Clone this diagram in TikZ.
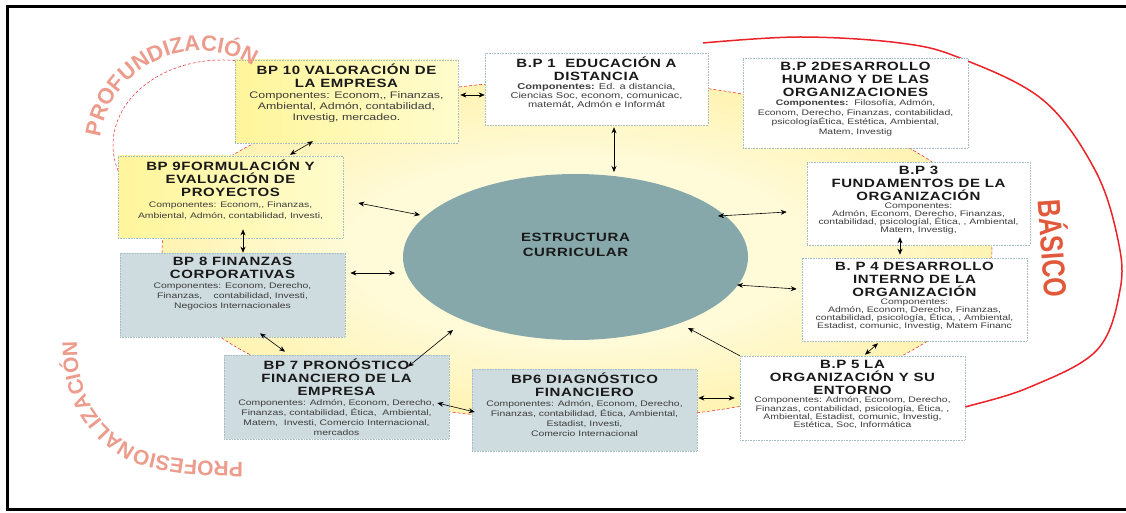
\documentclass[tikz,border=0pt]{standalone}
\usepackage{fontspec}
\setmainfont{Liberation Sans}
\newfontfamily\titlefont{Liberation Sans}[FakeStretch=1.25,LetterSpace=5]
\newfontfamily\compfont{Liberation Sans}[FakeStretch=1.3]
\newfontfamily\artfont{Liberation Sans Bold}
\newfontfamily\basfont{Liberation Sans Bold}[FakeStretch=0.78]
\usetikzlibrary{shapes.geometric,decorations.text,arrows.meta}

\definecolor{boxline}{RGB}{165,190,195}
\definecolor{bpgray}{RGB}{207,220,223}
\definecolor{bpyel}{RGB}{255,245,155}
\definecolor{bpyellt}{RGB}{255,252,205}
\definecolor{cream}{RGB}{255,250,215}
\definecolor{sand}{RGB}{255,238,148}
\definecolor{curteal}{RGB}{134,168,170}
\definecolor{artpink}{RGB}{236,155,140}
\definecolor{basred}{RGB}{226,88,58}
\definecolor{arcred}{RGB}{235,35,40}
\definecolor{ttl}{RGB}{25,25,25}
\definecolor{cmp}{RGB}{60,60,60}

\pgfdeclareradialshading{sunglow}{\pgfpoint{0bp}{0bp}}{color(0bp)=(cream); color(14bp)=(cream); color(34bp)=(sand); color(50bp)=(sand)}

% box text: height, width, title, components
\newcommand{\bptext}[4]{\parbox[c][#1][t]{#2}{\centering\vspace*{4pt}%
{\titlefont\bfseries\fontsize{12}{13}\selectfont\color{ttl}#3\par}%
{\compfont\color{cmp}#4\par}}}

\tikzset{
  bpbox/.style={draw=boxline, densely dotted, line width=0.6pt, inner sep=0pt},
  bpwhite/.style={bpbox, fill=white},
  bpyellow/.style={bpbox, left color=bpyel, right color=bpyellt},
  bpblue/.style={bpbox, fill=bpgray},
  link/.style={<->, >={Stealth[length=6pt,width=5pt]}, line width=0.6pt},
  wordart/.style={decorate, decoration={text along path, #1}}
}

\begin{document}
\begin{tikzpicture}[x=1pt,y=1pt]
\useasboundingbox (0,0) rectangle (1126,512);

% background rings
\shade[shading=sunglow] (577,262) ellipse[x radius=415, y radius=170];
\draw[arcred, densely dashed, line width=0.5pt] (577,262) ellipse[x radius=415, y radius=170];
\draw[arcred, densely dashed, line width=0.5pt] (222,367) ++(75:109 and 85) arc[start angle=75, end angle=198, x radius=109, y radius=85];
\draw[arcred, line width=1.5pt] plot[smooth, tension=0.6] coordinates {(703,469) (800,475) (900,469) (960,454) (1043,412) (1095,342) (1118,272) (1120,222) (1097,162) (1030,125) (965,105) (930,97)};

\node[ellipse, fill=curteal, inner sep=0pt, minimum width=345pt, minimum height=166pt] (cur) at (575.5,255) {};
\node[align=center, font=\titlefont\bfseries\fontsize{12}{15}\selectfont, text=ttl] (curtext) at ([yshift=12pt]cur.center) {ESTRUCTURA\\CURRICULAR};

% blocks
\node[bpyellow] (bp10) at (346.5,410.5) {\bptext{83pt}{223pt}{BP 10 VALORACIÓN DE\\LA EMPRESA}{\fontsize{9.5}{11}\selectfont Componentes: Econom,, Finanzas,\\Ambiental, Admón, contabilidad,\\Investig, mercadeo.}};
\node[bpwhite] (bp1) at (596.5,423) {\bptext{72pt}{223pt}{B.P 1\ \ EDUCACIÓN A\\DISTANCIA}{\fontsize{8.5}{9}\selectfont \textbf{Componentes:} Ed. a distancia,\\Ciencias Soc, econom, comunicac,\\matemát, Admón e Informát}};
\node[bpwhite] (bp2) at (855.5,409) {\bptext{90pt}{225pt}{B.P 2DESARROLLO\\HUMANO Y DE LAS\\ORGANIZACIONES}{\fontsize{8}{9.5}\selectfont \textbf{Componentes:}\ \ Filosofía, Admón,\\Econom, Derecho, Finanzas, contabilidad,\\psicologíaÉtica, Estética, Ambiental,\\Matem, Investig}};
\node[bpwhite] (bp3) at (918.5,308.5) {\bptext{83pt}{223pt}{B.P 3\\FUNDAMENTOS DE LA\\ORGANIZACIÓN}{\fontsize{8}{8}\selectfont Componentes:\\Admón, Econom, Derecho, Finanzas,\\contabilidad, psicologíal, Ética, , Ambiental,\\Matem, Investig,}};
\node[bpwhite] (bp4) at (914.5,212.5) {\bptext{83pt}{225pt}{B. P 4 DESARROLLO\\INTERNO DE LA\\ORGANIZACIÓN}{\fontsize{8}{8}\selectfont Componentes:\\Admón, Econom, Derecho, Finanzas,\\contabilidad, psicología, Ética, , Ambiental,\\Estadist, comunic, Investig, Matem Financ}};
\node[bpwhite] (bp5) at (852.5,114) {\bptext{84pt}{225pt}{B.P 5 LA\\ORGANIZACIÓN Y SU\\ENTORNO}{\fontsize{8}{8}\selectfont Componentes: Admón, Econom, Derecho,\\Finanzas, contabilidad, psicología, Ética, ,\\Ambiental, Estadist, comunic, Investig,\\Estética, Soc, Informática}};
\node[bpblue] (bp6) at (584.5,102) {\bptext{82pt}{225pt}{BP6 DIAGNÓSTICO\\FINANCIERO}{\fontsize{8}{10}\selectfont Componentes: Admón, Econom, Derecho,\\Finanzas, contabilidad, Ética, Ambiental,\\Estadist, Investi,\\Comercio Internacional}};
\node[bpblue] (bp7) at (336.5,115) {\bptext{84pt}{225pt}{BP 7 PRONÓSTICO\\FINANCIERO DE LA\\EMPRESA}{\fontsize{8}{10}\selectfont Componentes: Admón, Econom, Derecho,\\Finanzas, contabilidad, Ética,\ \ Ambiental,\\Matem,\ \ Investi, Comercio Internacional,\\mercados}};
\node[bpblue] (bp8) at (232.5,217) {\bptext{84pt}{225pt}{BP 8 FINANZAS\\CORPORATIVAS}{\fontsize{8}{10}\selectfont Componentes: Econom, Derecho,\\Finanzas,\ \ \ \ contabilidad, Investi,\\Negocios Internacionales}};
\node[bpyellow] (bp9) at (230.5,315) {\bptext{82pt}{225pt}{BP 9FORMULACIÓN Y\\EVALUACIÓN DE\\PROYECTOS}{\fontsize{8}{11}\selectfont Componentes: Econom,, Finanzas,\\Ambiental, Admón, contabilidad, Investi,}};

% links
\draw[link] ([shift={(2,6.5)}]bp10.east) -- ([shift={(0,-6)}]bp1.west);
\draw[link] ([shift={(17.5,-2)}]bp1.south) -- ([shift={(38.5,85)}]cur.center);
\draw[link] ([shift={(-33.5,2)}]bp10.south) -- ([shift={(59.5,1)}]bp9.north);
\draw[link] ([shift={(15,-6)}]bp9.east) -- ([shift={(-155.5,42)}]cur.center);
\draw[link] ([shift={(12.5,9)}]bp9.south) -- ([shift={(10.5,0)}]bp8.north);
\draw[link] ([shift={(5,22)}]bp8.east) -- ([shift={(-180.5,-16)}]cur.center);
\draw[link] ([shift={(27.5,4)}]bp8.south) -- ([shift={(-51.5,3)}]bp7.north);
\draw[link] ([shift={(71.5,-12)}]bp7.north) -- ([shift={(-122.5,-73)}]cur.center);
\draw[link] ([shift={(-12,-6)}]bp7.east) -- ([shift={(3,-2)}]bp6.west);
\draw[link] ([shift={(1,12)}]bp6.east) -- ([shift={(-5,0)}]bp5.west);
\draw[link, <-] ([shift={(112.5,-71)}]cur.center) -- (bp5.north west);
\draw[link] ([shift={(-5,10.5)}]bp4.west) -- ([shift={(161.5,-28)}]cur.center);
\draw[link] ([shift={(-20,-8.5)}]bp3.west) -- ([shift={(142.5,41)}]cur.center);
\draw[link] ([shift={(-18.5,8)}]bp3.south) -- ([shift={(-14.5,3)}]bp4.north);
\draw[link] ([shift={(-36.5,-2)}]bp4.south) -- ([shift={(12.5,1)}]bp5.north);

% stage labels
\path[wordart={text={|\artfont\fontsize{22}{22}\selectfont\color{artpink}|PROFUNDIZACIÓN}, text align=center}] (200,360) ++(175:101) arc[start angle=175, end angle=55, radius=101];
\path[wordart={text={|\artfont\fontsize{21}{21}\selectfont\color{artpink}|PROFESIONALIZACIÓN}, text align=left}] plot[smooth] coordinates {(243,50) (187,52) (140,62) (108,84) (88,112) (79,142) (77,170) (79,200) (83,228) (88,255)};
\node[rotate=-86, font=\basfont\fontsize{32}{32}\selectfont, text=basred] (basico) at (1055,264) {BÁSICO};

% frame
\draw[line width=3pt] (1140,505) -- (7,505) -- (7,2.5) -- (1140,2.5);
\end{tikzpicture}
\end{document}
